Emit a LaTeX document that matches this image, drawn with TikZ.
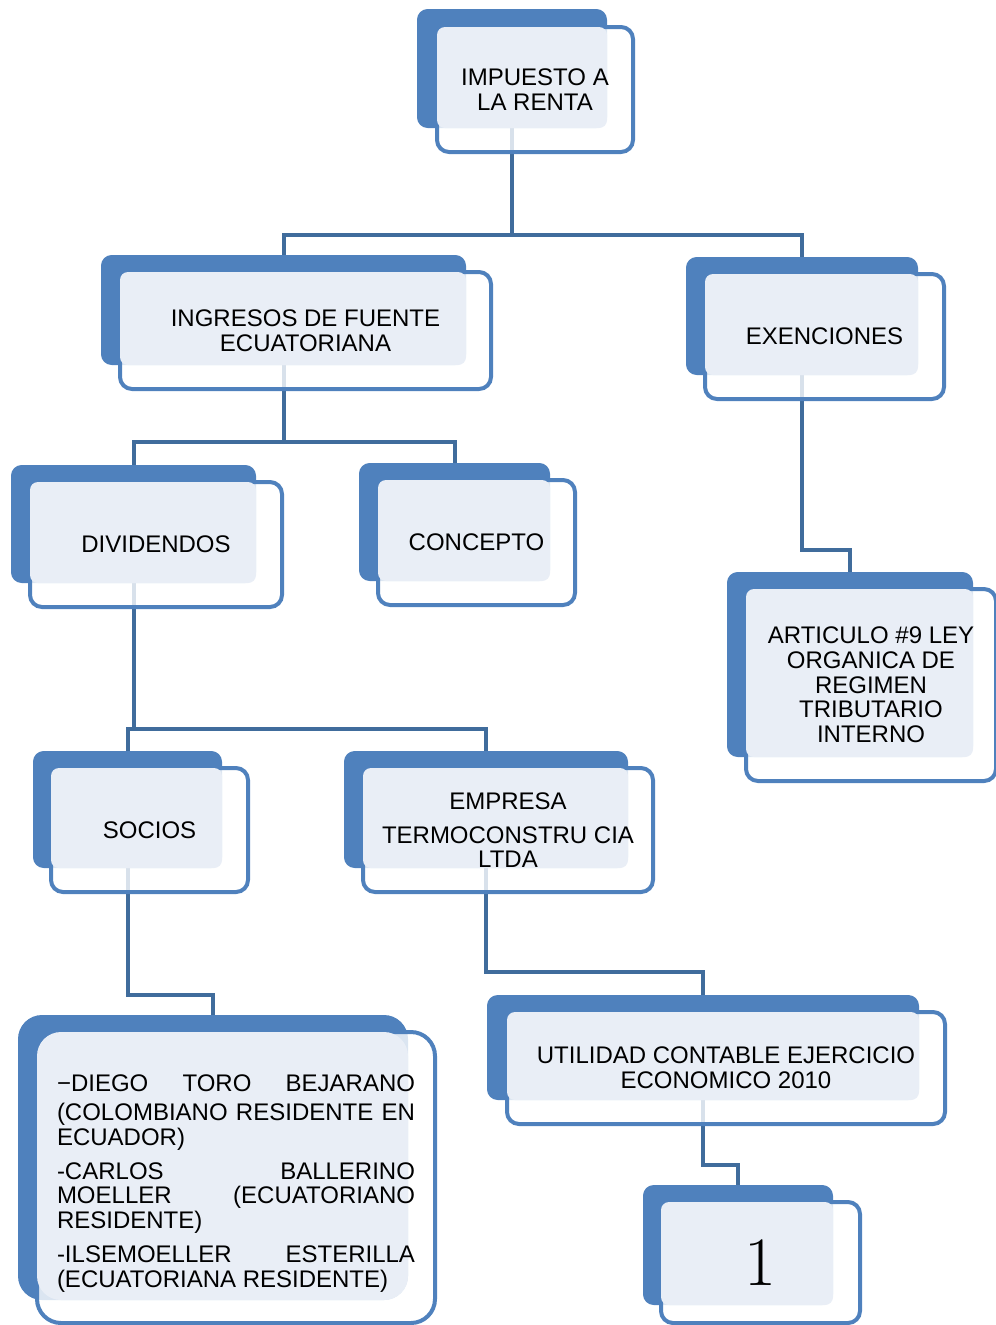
\documentclass[tikz,border=0pt]{standalone}
\usepackage{fontspec}
\newfontfamily\arial{Liberation Sans}
\usetikzlibrary{fit,backgrounds}

\definecolor{azul}{RGB}{79,129,189}
\definecolor{azulclaro}{RGB}{233,238,246}
\definecolor{linea}{RGB}{64,108,156}

\tikzset{
  atras/.style={fill=azul, rounded corners=8pt, inner sep=0pt},
  frente/.style={draw=azul, line width=3pt, fill=white, fill opacity=0.8, rounded corners=9pt, inner sep=0pt},
  claro/.style={fill=azulclaro, rounded corners=6pt, inner sep=0pt},
  texto/.style={font=\arial\fontsize{18}{18.5}\selectfont, align=center, text=black},
  conector/.style={draw=linea, line width=3pt},
}

% back block, front frame, light face, text
\newcommand{\caja}[7][]{%
  \node[atras, #1, fit={#3 #4}] (#2-b) {};
  \node[frente, #1, fit={#5 #6}] (#2-f) {};
  \node[claro, #1, fit={#5 #4}] (#2-c) {};
  \node[texto] (#2) at (#2-f.center) {#7};
}
\newcommand{\jl}[1]{\hbox to \linewidth{#1}}

\begin{document}
\begin{tikzpicture}[x=0.75pt, y=-0.75pt]
  \useasboundingbox (0,0) rectangle (996,1325);

  % Level 1
  \caja{imp}{(417,9)}{(607,128)}{(437,27)}{(633,152)}{IMPUESTO A\\LA RENTA}

  % Level 2
  \caja{ing}{(101,255)}{(466,365)}{(120,272)}{(491,389)}{INGRESOS DE FUENTE\\ECUATORIANA}
  \caja{exe}{(686,257)}{(918,375)}{(705,274)}{(944,399)}{EXENCIONES}

  % Level 3
  \caja{div}{(11,465)}{(256,583)}{(30,482)}{(282,607)}{DIVIDENDOS}
  \caja{con}{(359,463)}{(550,581)}{(378,480)}{(575,605)}{CONCEPTO}
  \caja{art}{(727,572)}{(973,757)}{(746,589)}{(996,781)}{ARTICULO \#9 LEY\\ORGANICA DE\\REGIMEN\\TRIBUTARIO\\INTERNO}

  % Level 4
  \caja{soc}{(33,751)}{(222,868)}{(51,768)}{(248,892)}{SOCIOS}
  \caja{emp}{(344,751)}{(628,868)}{(363,768)}{(653,892)}{EMPRESA\\[7pt]TERMOCONSTRU CIA\\LTDA}

  % Level 5
  \caja[rounded corners=18pt]{lis}{(18,1015)}{(408,1300)}{(37,1032)}{(435,1323)}{%
    \begin{minipage}{268.5pt}
      \vspace*{9pt}
      \jl{\char"2212\relax DIEGO\hfill TORO\hfill BEJARANO}\vspace{3pt}
      \jl{(COLOMBIANO\hfill RESIDENTE\hfill EN}
      \jl{ECUADOR)\hfill}\vspace{7pt}
      \jl{-CARLOS\hfill BALLERINO}
      \jl{MOELLER\hfill (ECUATORIANO}
      \jl{RESIDENTE)\hfill}\vspace{7pt}
      \jl{-ILSEMOELLER\hfill ESTERILLA}
      \jl{(ECUATORIANA RESIDENTE)\hfill}
    \end{minipage}}
  \caja{uti}{(487,995)}{(919,1100)}{(507,1012)}{(945,1124)}{UTILIDAD CONTABLE EJERCICIO\\ECONOMICO 2010}

  % Level 6
  \caja{uno}{(643,1185)}{(833,1305)}{(661,1202)}{(860,1323)}{\normalfont\fontsize{52}{52}\selectfont 1}

  % Connectors
  \begin{scope}[on background layer]
    \draw[conector] (imp-b.south) -- ++(0,107) -| (ing-b.north);
    \draw[conector] (imp-b.south) -- ++(0,107) -| (exe-b.north);
    \draw[conector] (ing-b.south) -- ++(0,77) -| (div-b.north);
    \draw[conector] (ing-b.south) -- ++(0,77) -| (con-b.north);
    \draw[conector] (exe-b.south) -- ++(0,175) -| (art-b.north);
    \draw[conector] (div-b.south) -- ++(0,146) -| (soc-b.north);
    \draw[conector] (div-b.south) -- ++(0,146) -| (emp-b.north);
    \draw[conector] (soc-b.south) -- ++(0,127) -| (lis-b.north);
    \draw[conector] (emp-b.south) -- ++(0,104) -| (uti-b.north);
    \draw[conector] (uti-b.south) -- ++(0,65) -| (uno-b.north);
  \end{scope}
\end{tikzpicture}
\end{document}
